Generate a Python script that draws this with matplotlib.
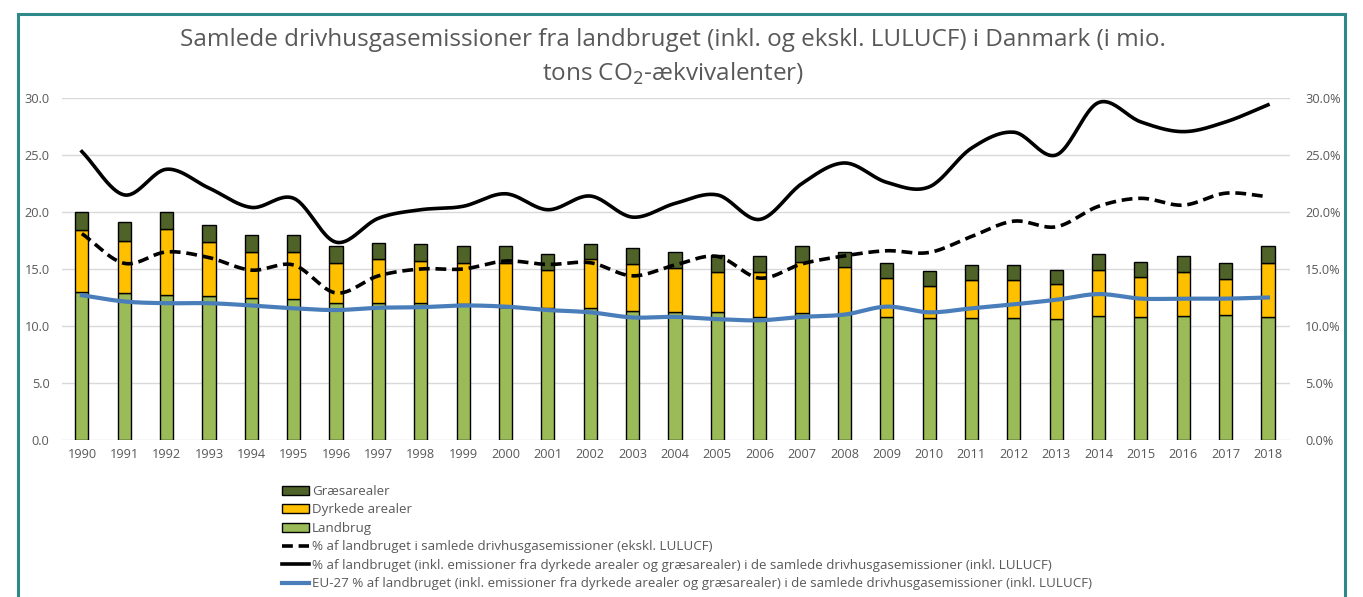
import numpy as np
import matplotlib
matplotlib.use("Agg")
import matplotlib.pyplot as plt
from matplotlib.patches import Rectangle, Patch
from matplotlib.lines import Line2D
from matplotlib import font_manager

years = list(range(1990, 2019))
landbrug = [13.0, 12.9, 12.7, 12.6, 12.45, 12.4, 12.0, 12.0, 12.0, 11.9,
            11.7, 11.55, 11.55, 11.35, 11.25, 11.2, 10.8, 11.1, 11.05, 10.8,
            10.7, 10.7, 10.7, 10.65, 10.9, 10.8, 10.9, 11.0, 10.8]
dyrkede_top = [18.4, 17.5, 18.5, 17.4, 16.5, 16.5, 15.5, 15.9, 15.7, 15.5,
               15.55, 14.9, 15.9, 15.4, 15.1, 14.7, 14.7, 15.6, 15.15, 14.2,
               13.5, 14.0, 14.0, 13.65, 14.9, 14.3, 14.7, 14.1, 15.5]
total = [20.0, 19.1, 20.0, 18.9, 18.0, 18.0, 17.0, 17.3, 17.2, 17.0,
         17.0, 16.3, 17.2, 16.8, 16.5, 16.2, 16.1, 17.0, 16.5, 15.5,
         14.8, 15.35, 15.35, 14.95, 16.35, 15.65, 16.1, 15.5, 17.0]
dyrkede = [t - l for t, l in zip(dyrkede_top, landbrug)]
graes = [t - d for t, d in zip(total, dyrkede_top)]

pct_ekskl = [18.1, 15.5, 16.5, 16.0, 14.9, 15.35, 12.9, 14.4, 15.0, 15.0,
             15.7, 15.4, 15.55, 14.4, 15.35, 16.1, 14.2, 15.45, 16.15, 16.6,
             16.45, 17.85, 19.2, 18.7, 20.5, 21.2, 20.6, 21.65, 21.35]
pct_inkl = [25.3, 21.5, 23.75, 22.1, 20.4, 21.2, 17.35, 19.45, 20.2, 20.5,
            21.6, 20.2, 21.4, 19.55, 20.75, 21.5, 19.35, 22.5, 24.3, 22.6,
            22.2, 25.6, 27.0, 25.0, 29.6, 27.9, 27.05, 27.9, 29.4]
pct_eu27 = [12.7, 12.15, 12.0, 12.0, 11.8, 11.55, 11.4, 11.6, 11.65, 11.8,
            11.7, 11.4, 11.2, 10.75, 10.8, 10.6, 10.5, 10.8, 11.0, 11.7,
            11.2, 11.55, 11.9, 12.3, 12.8, 12.4, 12.4, 12.4, 12.5]

labels = ["Græsarealer", "Dyrkede arealer", "Landbrug",
          "% af landbruget i samlede drivhusgasemissioner (ekskl. LULUCF)",
          "% af landbruget (inkl. emissioner fra dyrkede arealer og græsarealer) i de samlede drivhusgasemissioner (inkl. LULUCF)",
          "EU-27 % af landbruget (inkl. emissioner fra dyrkede arealer og græsarealer) i de samlede drivhusgasemissioner (inkl. LULUCF)"]

avail = {f.name for f in font_manager.fontManager.ttflist}
base = "Open Sans" if "Open Sans" in avail else "DejaVu Sans"
plt.rcParams['font.family'] = [base, 'DejaVu Sans']


def smooth(x, y, n=24):
    # Catmull-Rom rendering (like Excel's smoothed line)
    x = np.asarray(x, float); y = np.asarray(y, float)
    px = np.concatenate([[2 * x[0] - x[1]], x, [2 * x[-1] - x[-2]]])
    py = np.concatenate([[2 * y[0] - y[1]], y, [2 * y[-1] - y[-2]]])
    xs, ys = [], []
    t = np.linspace(0, 1, n, endpoint=False)
    for i in range(1, len(px) - 2):
        p0, p1, p2, p3 = py[i - 1], py[i], py[i + 1], py[i + 2]
        q0, q1, q2, q3 = px[i - 1], px[i], px[i + 1], px[i + 2]
        for arr, a0, a1, a2, a3 in ((ys, p0, p1, p2, p3), (xs, q0, q1, q2, q3)):
            arr.extend(0.5 * ((2 * a1) + (-a0 + a2) * t + (2 * a0 - 5 * a1 + 4 * a2 - a3) * t ** 2
                              + (-a0 + 3 * a1 - 3 * a2 + a3) * t ** 3))
    xs.append(x[-1]); ys.append(y[-1])
    return np.array(xs), np.array(ys)


W, H = 1363, 597
fig = plt.figure(figsize=(W / 100, H / 100), dpi=100)
fig.patch.set_facecolor("white")
ax = fig.add_axes([62 / W, 1 - 440 / H, (1290 - 62) / W, (440 - 98) / H])

x = np.arange(len(years))
bw = 0.31
c_green, c_yellow, c_dark = "#9BBB59", "#FFC000", "#4F6228"
ax.bar(x, landbrug, bw, color=c_green, edgecolor="black", linewidth=1, zorder=2)
ax.bar(x, dyrkede, bw, bottom=landbrug, color=c_yellow, edgecolor="black", linewidth=1, zorder=2)
ax.bar(x, graes, bw, bottom=dyrkede_top, color=c_dark, edgecolor="black", linewidth=1, zorder=2)

ax.set_ylim(0, 30)
ax.set_xlim(-0.47, 28.52)
ax.set_yticks(np.arange(0, 31, 5))
ax.set_yticklabels([f"{v:.1f}" for v in np.arange(0, 31, 5)])
ax.set_xticks(x)
ax.set_xticklabels([str(y) for y in years])
ax.grid(axis="y", color="#D9D9D9", linewidth=1, zorder=0)
ax.set_axisbelow(True)
for s in ax.spines.values():
    s.set_visible(False)
ax.tick_params(axis="both", length=0, colors="#595959", labelsize=9.2)
ax.tick_params(axis="y", pad=9)
ax.tick_params(axis="x", pad=6)

ax2 = ax.twinx()
ax2.set_ylim(0, 30)
ax2.set_yticks(np.arange(0, 31, 5))
ax2.set_yticklabels([f"{v:.1f}%" for v in np.arange(0, 31, 5)])
for s in ax2.spines.values():
    s.set_visible(False)
ax2.tick_params(axis="y", length=0, colors="#595959", labelsize=9.2, pad=11)

sx, sy = smooth(x, pct_ekskl)
ax2.plot(sx, sy, color="black", linewidth=2.6, linestyle=(0, (3, 1.6)), zorder=3)
sx, sy = smooth(x, pct_inkl)
ax2.plot(sx, sy, color="black", linewidth=2.6, zorder=3)
sx, sy = smooth(x, pct_eu27)
ax2.plot(sx, sy, color="#4A7EBB", linewidth=3, zorder=3)

fig.text(0.494, 1 - 40 / H, "Samlede drivhusgasemissioner fra landbruget (inkl. og ekskl. LULUCF) i Danmark (i mio.",
         ha="center", va="center", fontsize=17.5, color="#595959")
fig.text(0.494, 1 - 74 / H, "tons CO$_2$-ækvivalenter)", ha="center", va="center",
         fontsize=17.5, color="#595959")

handles = [Patch(facecolor=c_dark, edgecolor="black", linewidth=1),
           Patch(facecolor=c_yellow, edgecolor="black", linewidth=1),
           Patch(facecolor=c_green, edgecolor="black", linewidth=1),
           Line2D([], [], color="black", linewidth=2.6, linestyle=(0, (3, 1.6))),
           Line2D([], [], color="black", linewidth=2.6),
           Line2D([], [], color="#4A7EBB", linewidth=3)]
leg = fig.legend(handles, labels, loc="upper left", bbox_to_anchor=(282 / W, 1 - 485 / H),
                 frameon=False, fontsize=9.6, handlelength=2.05, handleheight=0.7,
                 handletextpad=0.2, labelspacing=0.41, borderpad=0, borderaxespad=0)
for t in leg.get_texts():
    t.set_color("#595959")

fig.patches.append(Rectangle((18 / W, -0.05), (1345 - 18) / W, 1 - 14 / H + 0.05,
                             transform=fig.transFigure, fill=False,
                             edgecolor="#2E8A8A", linewidth=2.2))

fig.savefig("out.png", dpi=100)
